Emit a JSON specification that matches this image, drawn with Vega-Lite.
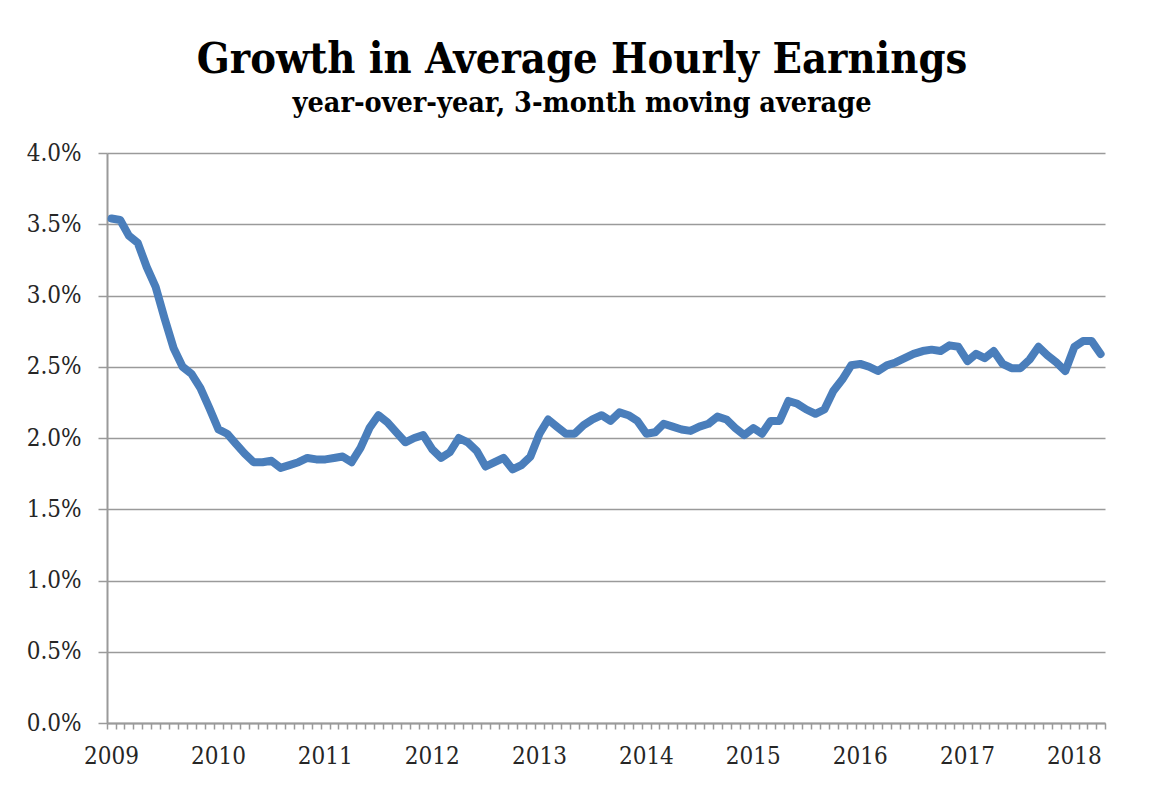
{
  "$schema": "https://vega.github.io/schema/vega-lite/v6.json",
  "width": 998,
  "height": 570,
  "autosize": {"type": "none"},
  "padding": {"left": 107, "top": 153, "right": 48, "bottom": 65},
  "background": "white",
  "title": {
    "text": "Growth in Average Hourly Earnings",
    "subtitle": "year-over-year, 3-month moving average",
    "font": "DejaVu Serif Condensed",
    "fontSize": 43,
    "fontWeight": "bold",
    "color": "#000000",
    "subtitleFont": "DejaVu Serif Condensed",
    "subtitleFontSize": 28.5,
    "subtitleFontWeight": "bold",
    "subtitleColor": "#000000",
    "subtitlePadding": 7,
    "anchor": "middle",
    "frame": "group",
    "dx": -24,
    "offset": 24
  },
  "config": {
    "view": {"stroke": null},
    "axis": {
      "labelFont": "DejaVu Serif Condensed",
      "labelFontSize": 24,
      "labelColor": "#262626",
      "domainColor": "#9A9A9A",
      "domainWidth": 2,
      "tickColor": "#9A9A9A",
      "tickWidth": 1.5,
      "gridColor": "#9A9A9A",
      "gridWidth": 1.5
    }
  },
  "data": {
    "values": [
      {"date": "2009-01-01", "growth": 3.54},
      {"date": "2009-02-01", "growth": 3.53},
      {"date": "2009-03-01", "growth": 3.42},
      {"date": "2009-04-01", "growth": 3.37},
      {"date": "2009-05-01", "growth": 3.20},
      {"date": "2009-06-01", "growth": 3.06},
      {"date": "2009-07-01", "growth": 2.84},
      {"date": "2009-08-01", "growth": 2.63},
      {"date": "2009-09-01", "growth": 2.50},
      {"date": "2009-10-01", "growth": 2.45},
      {"date": "2009-11-01", "growth": 2.35},
      {"date": "2009-12-01", "growth": 2.21},
      {"date": "2010-01-01", "growth": 2.06},
      {"date": "2010-02-01", "growth": 2.03},
      {"date": "2010-03-01", "growth": 1.96},
      {"date": "2010-04-01", "growth": 1.89},
      {"date": "2010-05-01", "growth": 1.83},
      {"date": "2010-06-01", "growth": 1.83},
      {"date": "2010-07-01", "growth": 1.84},
      {"date": "2010-08-01", "growth": 1.79},
      {"date": "2010-09-01", "growth": 1.81},
      {"date": "2010-10-01", "growth": 1.83},
      {"date": "2010-11-01", "growth": 1.86},
      {"date": "2010-12-01", "growth": 1.85},
      {"date": "2011-01-01", "growth": 1.85},
      {"date": "2011-02-01", "growth": 1.86},
      {"date": "2011-03-01", "growth": 1.87},
      {"date": "2011-04-01", "growth": 1.83},
      {"date": "2011-05-01", "growth": 1.93},
      {"date": "2011-06-01", "growth": 2.07},
      {"date": "2011-07-01", "growth": 2.16},
      {"date": "2011-08-01", "growth": 2.11},
      {"date": "2011-09-01", "growth": 2.04},
      {"date": "2011-10-01", "growth": 1.97},
      {"date": "2011-11-01", "growth": 2.00},
      {"date": "2011-12-01", "growth": 2.02},
      {"date": "2012-01-01", "growth": 1.92},
      {"date": "2012-02-01", "growth": 1.86},
      {"date": "2012-03-01", "growth": 1.90},
      {"date": "2012-04-01", "growth": 2.00},
      {"date": "2012-05-01", "growth": 1.97},
      {"date": "2012-06-01", "growth": 1.91},
      {"date": "2012-07-01", "growth": 1.80},
      {"date": "2012-08-01", "growth": 1.83},
      {"date": "2012-09-01", "growth": 1.86},
      {"date": "2012-10-01", "growth": 1.78},
      {"date": "2012-11-01", "growth": 1.81},
      {"date": "2012-12-01", "growth": 1.87},
      {"date": "2013-01-01", "growth": 2.03},
      {"date": "2013-02-01", "growth": 2.13},
      {"date": "2013-03-01", "growth": 2.08},
      {"date": "2013-04-01", "growth": 2.03},
      {"date": "2013-05-01", "growth": 2.03},
      {"date": "2013-06-01", "growth": 2.09},
      {"date": "2013-07-01", "growth": 2.13},
      {"date": "2013-08-01", "growth": 2.16},
      {"date": "2013-09-01", "growth": 2.12},
      {"date": "2013-10-01", "growth": 2.18},
      {"date": "2013-11-01", "growth": 2.16},
      {"date": "2013-12-01", "growth": 2.12},
      {"date": "2014-01-01", "growth": 2.03},
      {"date": "2014-02-01", "growth": 2.04},
      {"date": "2014-03-01", "growth": 2.10},
      {"date": "2014-04-01", "growth": 2.08},
      {"date": "2014-05-01", "growth": 2.06},
      {"date": "2014-06-01", "growth": 2.05},
      {"date": "2014-07-01", "growth": 2.08},
      {"date": "2014-08-01", "growth": 2.10},
      {"date": "2014-09-01", "growth": 2.15},
      {"date": "2014-10-01", "growth": 2.13},
      {"date": "2014-11-01", "growth": 2.07},
      {"date": "2014-12-01", "growth": 2.02},
      {"date": "2015-01-01", "growth": 2.07},
      {"date": "2015-02-01", "growth": 2.03},
      {"date": "2015-03-01", "growth": 2.12},
      {"date": "2015-04-01", "growth": 2.12},
      {"date": "2015-05-01", "growth": 2.26},
      {"date": "2015-06-01", "growth": 2.24},
      {"date": "2015-07-01", "growth": 2.20},
      {"date": "2015-08-01", "growth": 2.17},
      {"date": "2015-09-01", "growth": 2.20},
      {"date": "2015-10-01", "growth": 2.33},
      {"date": "2015-11-01", "growth": 2.41},
      {"date": "2015-12-01", "growth": 2.51},
      {"date": "2016-01-01", "growth": 2.52},
      {"date": "2016-02-01", "growth": 2.50},
      {"date": "2016-03-01", "growth": 2.47},
      {"date": "2016-04-01", "growth": 2.51},
      {"date": "2016-05-01", "growth": 2.53},
      {"date": "2016-06-01", "growth": 2.56},
      {"date": "2016-07-01", "growth": 2.59},
      {"date": "2016-08-01", "growth": 2.61},
      {"date": "2016-09-01", "growth": 2.62},
      {"date": "2016-10-01", "growth": 2.61},
      {"date": "2016-11-01", "growth": 2.65},
      {"date": "2016-12-01", "growth": 2.64},
      {"date": "2017-01-01", "growth": 2.54},
      {"date": "2017-02-01", "growth": 2.59},
      {"date": "2017-03-01", "growth": 2.56},
      {"date": "2017-04-01", "growth": 2.61},
      {"date": "2017-05-01", "growth": 2.52},
      {"date": "2017-06-01", "growth": 2.49},
      {"date": "2017-07-01", "growth": 2.49},
      {"date": "2017-08-01", "growth": 2.55},
      {"date": "2017-09-01", "growth": 2.64},
      {"date": "2017-10-01", "growth": 2.58},
      {"date": "2017-11-01", "growth": 2.53},
      {"date": "2017-12-01", "growth": 2.47},
      {"date": "2018-01-01", "growth": 2.64},
      {"date": "2018-02-01", "growth": 2.68},
      {"date": "2018-03-01", "growth": 2.68},
      {"date": "2018-04-01", "growth": 2.59}
    ]
  },
  "mark": {
    "type": "line",
    "color": "#4A7EBB",
    "strokeWidth": 8,
    "strokeCap": "round",
    "strokeJoin": "round"
  },
  "encoding": {
    "x": {
      "field": "date",
      "type": "temporal",
      "timeUnit": "utcyearmonth",
      "bandPosition": 0.5,
      "title": null,
      "scale": {
        "type": "utc",
        "domain": [
          {"year": 2009, "month": 1, "date": 1, "utc": true},
          {"year": 2018, "month": 5, "date": 1, "utc": true}
        ],
        "nice": false
      },
      "axis": {
        "tickCount": {"interval": "month", "step": 1},
        "labelExpr": "utcmonth(datum.value) == 0 ? utcFormat(datum.value, '%Y') : ''",
        "labelOverlap": false,
        "labelFlush": false,
        "labelBound": false,
        "labelOffset": 4,
        "tickSize": 6,
        "labelPadding": 15,
        "grid": false
      }
    },
    "y": {
      "field": "growth",
      "type": "quantitative",
      "title": null,
      "scale": {"domain": [0, 4], "nice": false, "zero": true},
      "axis": {
        "values": [0, 0.5, 1, 1.5, 2, 2.5, 3, 3.5, 4],
        "labelExpr": "format(datum.value, '.1f') + '%'",
        "tickSize": 9,
        "labelPadding": 17,
        "grid": true
      }
    }
  }
}
